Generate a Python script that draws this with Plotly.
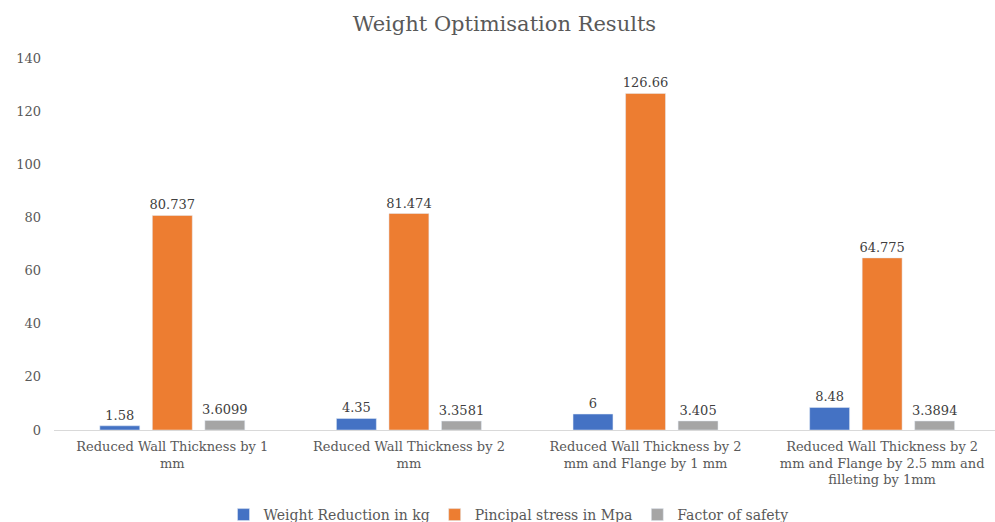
import plotly.graph_objects as go

categories = [
    "Reduced Wall Thickness by 1<br>mm",
    "Reduced Wall Thickness by 2<br>mm",
    "Reduced Wall Thickness by 2<br>mm and Flange by 1 mm",
    "Reduced Wall Thickness by 2<br>mm and Flange by 2.5 mm and<br>filleting by 1mm",
]
weight_reduction = [1.58, 4.35, 6, 8.48]
principal_stress = [80.737, 81.474, 126.66, 64.775]
factor_of_safety = [3.6099, 3.3581, 3.405, 3.3894]

weight_labels = ["1.58", "4.35", "6", "8.48"]
stress_labels = ["80.737", "81.474", "126.66", "64.775"]
fos_labels = ["3.6099", "3.3581", "3.405", "3.3894"]

series_names = ["Weight Reduction in kg", "Pincipal stress in Mpa", "Factor of safety"]
colors = ["#4472C4", "#ED7D31", "#A5A5A5"]

FONT = "DejaVu Serif, Liberation Serif, serif"

fig = go.Figure()
for name, vals, labels, col in zip(series_names,
                                   [weight_reduction, principal_stress, factor_of_safety],
                                   [weight_labels, stress_labels, fos_labels],
                                   colors):
    fig.add_trace(go.Bar(
        x=categories, y=vals, name=name, marker_color=col,
        text=labels, textposition="outside", cliponaxis=False,
        constraintext="none",
        textfont=dict(family=FONT, size=13, color="#404040"),
    ))

fig.update_layout(
    width=995, height=522,
    paper_bgcolor="white", plot_bgcolor="white",
    margin=dict(l=54, r=0, t=58, b=92, autoexpand=False),
    barmode="group", bargap=0.334, bargroupgap=0.24,
    font=dict(family=FONT, size=13, color="#595959"),
    title=dict(text="Weight Optimisation Results", x=0.507, xanchor="center",
               y=0.955, yanchor="middle",
               font=dict(family=FONT, size=21, color="#595959")),
    showlegend=True,
    legend=dict(orientation="h", x=0.483, xanchor="center", y=-0.2285, yanchor="middle",
                font=dict(family=FONT, size=14, color="#595959"),
                itemwidth=30, traceorder="normal"),
    yaxis=dict(range=[0, 140], dtick=20, showgrid=False, zeroline=False,
               showline=False, ticks="", ticklabelstandoff=12,
               tickfont=dict(family=FONT, size=13, color="#595959")),
    xaxis=dict(range=[-0.5, 3.477], showgrid=False, showline=True, linecolor="#D9D9D9", linewidth=1,
               ticks="", ticklabelstandoff=4,
               tickfont=dict(family=FONT, size=13, color="#595959")),
)

fig.write_html("out.html", config={"displayModeBar": False},
               post_script="document.body.style.margin='0px';")
